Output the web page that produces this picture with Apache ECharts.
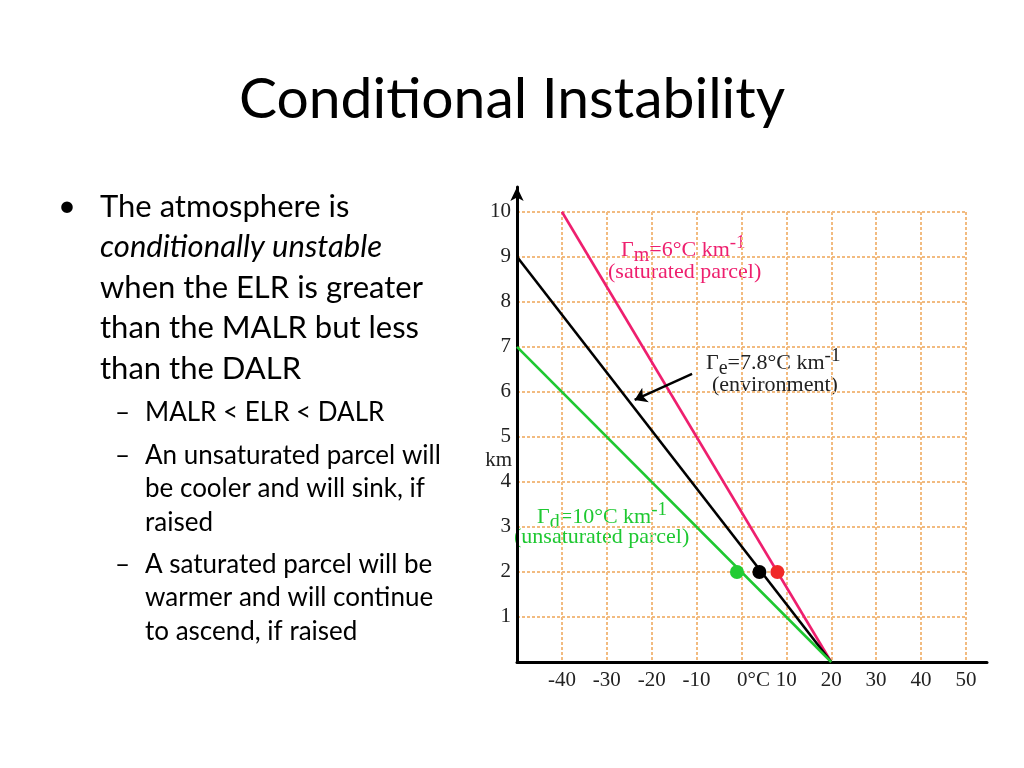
<!DOCTYPE html>
<html>
<head>
<meta charset="utf-8">
<script src="https://cdn.jsdelivr.net/npm/echarts@6/dist/echarts.min.js"></script>
<style>
html,body{margin:0;padding:0;background:#fff;}
#c{width:1024px;height:768px;}
</style>
</head>
<body>
<div id="c"></div>
<script>
// ---- data ----
const saturatedLine = [[20, 0], [-40, 10]];      // Γm = 6 °C/km
const environmentLine = [[20, 0], [-50, 9]];     // Γe = 7.8 °C/km
const unsaturatedLine = [[20, 0], [-50, 7]];     // Γd = 10 °C/km
const parcelDots = [[-1, 2], [4, 2], [8, 2]];
const dotColors = ['#22cc33', '#000000', '#f02828'];
const arrowCoords = [[-11, 6.4], [-23.8, 5.82]];
const xTickValues = [-40, -30, -20, -10, 0, 10, 20, 30, 40, 50];
const yTickValues = [1, 2, 3, 4, 5, 6, 7, 8, 9, 10];

const title = 'Conditional Instability';
const bulletLines = ['The atmosphere is', 'conditionally unstable', 'when the ELR is greater', 'than the MALR but less', 'than the DALR'];
const subBullets = [
  ['MALR < ELR < DALR'],
  ['An unsaturated parcel will', 'be cooler and will sink, if', 'raised'],
  ['A saturated parcel will be', 'warmer and will continue', 'to ascend, if raised']
];

const serif = '"Liberation Serif", "Times New Roman", serif';
const sans = 'Lato, "Open Sans", sans-serif';
const gridColor = '#f2bb80';
const pink = '#ee1f6e';
const green = '#1ec831';

const chart = echarts.init(document.getElementById('c'), null, {renderer: 'canvas'});

// ---- slide text ----
const graphics = [];
graphics.push({type: 'text', x: 512, y: 100, style: {text: title, font: '57px ' + sans, fill: '#000', align: 'center', verticalAlign: 'middle'}});
graphics.push({type: 'text', x: 58, y: 206, style: {text: '•', font: '31px ' + sans, fill: '#000', align: 'left', verticalAlign: 'middle'}});
const bulletY = [207, 247, 288, 328, 369];
bulletLines.forEach((t, i) => {
  graphics.push({type: 'text', x: 100, y: bulletY[i], style: {text: t, font: (i === 1 ? 'italic ' : '') + '31px ' + sans, fill: '#000', align: 'left', verticalAlign: 'middle'}});
});
const subY = [[413], [456, 489, 523], [565, 598, 632]];
subBullets.forEach((lines, bi) => {
  graphics.push({type: 'text', x: 115, y: subY[bi][0], style: {text: '–', font: '26px ' + sans, fill: '#000', align: 'left', verticalAlign: 'middle'}});
  lines.forEach((t, li) => {
    graphics.push({type: 'text', x: 145, y: subY[bi][li], style: {text: t, font: '26px ' + sans, fill: '#000', align: 'left', verticalAlign: 'middle'}});
  });
});

function richLabel(sym, sub, rest, color) {
  return {
    text: '{n|' + sym + '}{s|' + sub + '}{n|' + rest + '}{p|-1}',
    fill: color,
    align: 'left',
    verticalAlign: 'middle',
    rich: {
      n: {fontFamily: serif, fontSize: 22, lineHeight: 32, verticalAlign: 'middle', fill: color},
      s: {fontFamily: serif, fontSize: 20, lineHeight: 19, verticalAlign: 'bottom', fill: color},
      p: {fontFamily: serif, fontSize: 19, lineHeight: 18, verticalAlign: 'top', fill: color}
    }
  };
}
const paren = (t, color) => ({text: t, font: '22px ' + serif, fill: color, align: 'left', verticalAlign: 'middle'});
graphics.push({type: 'text', x: 621, y: 250, style: richLabel('Γ', 'm', '=6°C km', pink)});
graphics.push({type: 'text', x: 608, y: 272, style: paren('(saturated parcel)', pink)});
graphics.push({type: 'text', x: 706, y: 363, style: richLabel('Γ', 'e', '=7.8°C km', '#222')});
graphics.push({type: 'text', x: 712, y: 385, style: paren('(environment)', '#222')});
graphics.push({type: 'text', x: 537, y: 517, style: richLabel('Γ', 'd', '=10°C km', green)});
graphics.push({type: 'text', x: 514, y: 537, style: paren('(unsaturated parcel)', green)});
graphics.push({type: 'text', x: 512, y: 460, style: {text: 'km', font: '21px ' + serif, fill: '#222', align: 'right', verticalAlign: 'middle'}});

const option = {
  backgroundColor: '#fff',
  animation: false,
  grid: [
    {left: 517, bottom: 106, width: 449, height: 450},
    {left: 517, bottom: 106, width: 470, height: 475}
  ],
  xAxis: [
    {gridIndex: 0, type: 'value', min: -50, max: 50, interval: 10,
     axisLine: {show: false}, axisTick: {show: false}, axisLabel: {show: false},
     splitLine: {show: true, lineStyle: {color: gridColor, width: 2, type: [3, 2]}}},
    {gridIndex: 1, type: 'value', min: -50, max: 54.7, interval: 10,
     axisLine: {show: true, onZero: false, lineStyle: {color: '#000', width: 3}},
     axisTick: {show: false}, splitLine: {show: false},
     axisLabel: {
       margin: 8, color: '#222', fontFamily: serif, fontSize: 21,
       formatter: v => xTickValues.indexOf(v) < 0 ? '' : (v === 0 ? '{z|0°C}' : String(v)),
       rich: {z: {fontFamily: serif, fontSize: 21, color: '#222', padding: [0, 0, 0, 24]}}
     }}
  ],
  yAxis: [
    {gridIndex: 0, type: 'value', min: 0, max: 10, interval: 1,
     axisLine: {show: false}, axisTick: {show: false}, axisLabel: {show: false},
     splitLine: {show: true, lineStyle: {color: gridColor, width: 2, type: [3, 2]}}},
    {gridIndex: 1, type: 'value', min: 0, max: 10.55, interval: 1,
     axisLine: {show: true, onZero: false, lineStyle: {color: '#000', width: 3}, symbol: ['none', 'arrow'], symbolSize: [10, 14]},
     axisTick: {show: false}, splitLine: {show: false},
     axisLabel: {margin: 6, color: '#222', fontFamily: serif, fontSize: 21,
       formatter: v => yTickValues.indexOf(v) < 0 ? '' : String(v)}}
  ],
  series: [
    {type: 'line', xAxisIndex: 1, yAxisIndex: 1, data: saturatedLine, symbol: 'none', lineStyle: {color: pink, width: 2.6}},
    {type: 'line', xAxisIndex: 1, yAxisIndex: 1, data: environmentLine, symbol: 'none', lineStyle: {color: '#000', width: 2.6}},
    {type: 'line', xAxisIndex: 1, yAxisIndex: 1, data: unsaturatedLine, symbol: 'none', lineStyle: {color: green, width: 2.6}},
    {type: 'scatter', xAxisIndex: 1, yAxisIndex: 1, symbolSize: 14,
     data: parcelDots.map((p, i) => ({value: p, itemStyle: {color: dotColors[i], opacity: 1}})), z: 5},
    {type: 'lines', coordinateSystem: 'cartesian2d', xAxisIndex: 1, yAxisIndex: 1,
     data: [{coords: arrowCoords}], symbol: ['none', 'arrow'], symbolSize: 12,
     lineStyle: {color: '#000', width: 2.4, opacity: 1}, z: 6}
  ],
  graphic: graphics
};
chart.setOption(option);
</script>
</body>
</html>
